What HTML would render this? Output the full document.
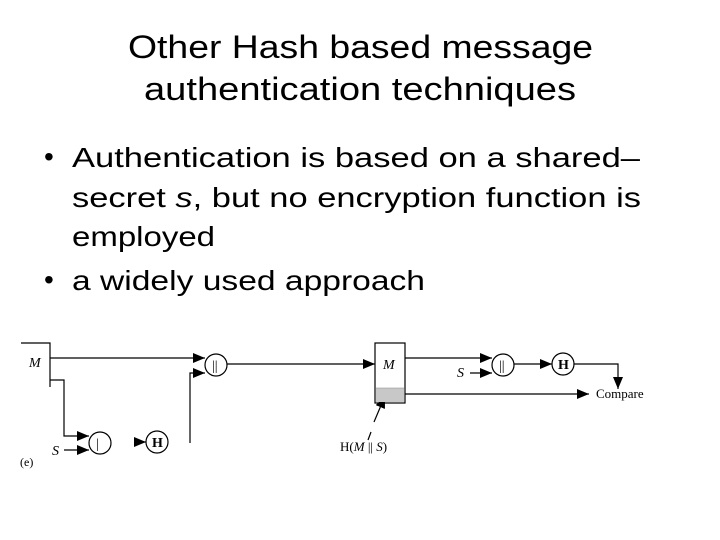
<!DOCTYPE html>
<html><head><style>
html,body{margin:0;padding:0;background:#fff;width:720px;height:540px;overflow:hidden}
svg{display:block}
.t{font-family:"Liberation Sans","NanumGothic",sans-serif;fill:#000}
.d{font-family:"Liberation Serif",serif;fill:#000;font-size:14px}
</style></head><body>
<svg width="720" height="540" viewBox="0 0 720 540" xmlns="http://www.w3.org/2000/svg">
<defs><marker id="a" markerWidth="12" markerHeight="10" refX="12" refY="5" orient="auto" markerUnits="userSpaceOnUse"><path d="M0,0 L12,5 L0,10z" fill="#000"/></marker></defs>
<g class="t">
<text x="128" y="58" font-size="32" textLength="465" lengthAdjust="spacingAndGlyphs">Other Hash based message</text>
<text x="144" y="100" font-size="32" textLength="432" lengthAdjust="spacingAndGlyphs">authentication techniques</text>
<text x="44" y="166" font-size="28">•</text>
<text x="72" y="167" font-size="28" textLength="568" lengthAdjust="spacingAndGlyphs">Authentication is based on a shared–</text>
<text x="72" y="207" font-size="28" textLength="569" lengthAdjust="spacingAndGlyphs">secret <tspan font-style="italic">s</tspan>, but no encryption function is</text>
<text x="72" y="246" font-size="28" textLength="143" lengthAdjust="spacingAndGlyphs">employed</text>
<text x="44" y="289" font-size="28">•</text>
<text x="72" y="290" font-size="28" textLength="353" lengthAdjust="spacingAndGlyphs">a widely used approach</text>
</g>
<g stroke="#000" stroke-width="1.2" fill="none">
<polyline points="21,343 50,343 50,387"/>
<line x1="50" y1="358" x2="205" y2="358" marker-end="url(#a)"/>
<polyline points="50,380 64,380 64,436 89,436" marker-end="url(#a)"/>
<line x1="64" y1="450" x2="89" y2="450" marker-end="url(#a)"/>
<line x1="134" y1="442" x2="146" y2="442" marker-end="url(#a)"/>
<polyline points="190,443 190,373 205,373" marker-end="url(#a)"/>
<circle cx="216" cy="365" r="11"/>
<circle cx="100" cy="443" r="11"/>
<circle cx="157" cy="442" r="11"/>
<line x1="227" y1="364" x2="375" y2="364" marker-end="url(#a)"/>
<rect x="375" y="343" width="30" height="60"/>
<line x1="405" y1="358" x2="492" y2="358" marker-end="url(#a)"/>
<line x1="470" y1="373" x2="492" y2="373" marker-end="url(#a)"/>
<circle cx="503" cy="365" r="11"/>
<line x1="514" y1="364" x2="552" y2="364" marker-end="url(#a)"/>
<circle cx="563" cy="364" r="11"/>
<polyline points="574,364 618,364 618,389" marker-end="url(#a)"/>
<line x1="405" y1="394" x2="589" y2="394" marker-end="url(#a)"/>
<line x1="374" y1="422" x2="385" y2="396" marker-end="url(#a)"/>
<line x1="368" y1="440" x2="371" y2="432"/>
</g>
<rect x="376" y="388" width="28" height="14" fill="#c8c8c8"/>
<line x1="376" y1="388" x2="404" y2="388" stroke="#888" stroke-width="0.6"/>
<g class="d">
<text x="29" y="367" font-style="italic">M</text>
<text x="52" y="455" font-style="italic">S</text>
<text x="20" y="466" font-size="12">(e)</text>
<text x="212" y="370">||</text>
<text x="96" y="448">|</text>
<text x="152" y="447" font-weight="bold">H</text>
<text x="383" y="369" font-style="italic">M</text>
<text x="457" y="377" font-style="italic">S</text>
<text x="499" y="370">||</text>
<text x="558" y="369" font-weight="bold">H</text>
<text x="596" y="398" font-size="13">Compare</text>
<text x="340" y="451" font-size="13">H(<tspan font-style="italic">M</tspan> || <tspan font-style="italic">S</tspan>)</text>
</g>
</svg>
</body></html>
